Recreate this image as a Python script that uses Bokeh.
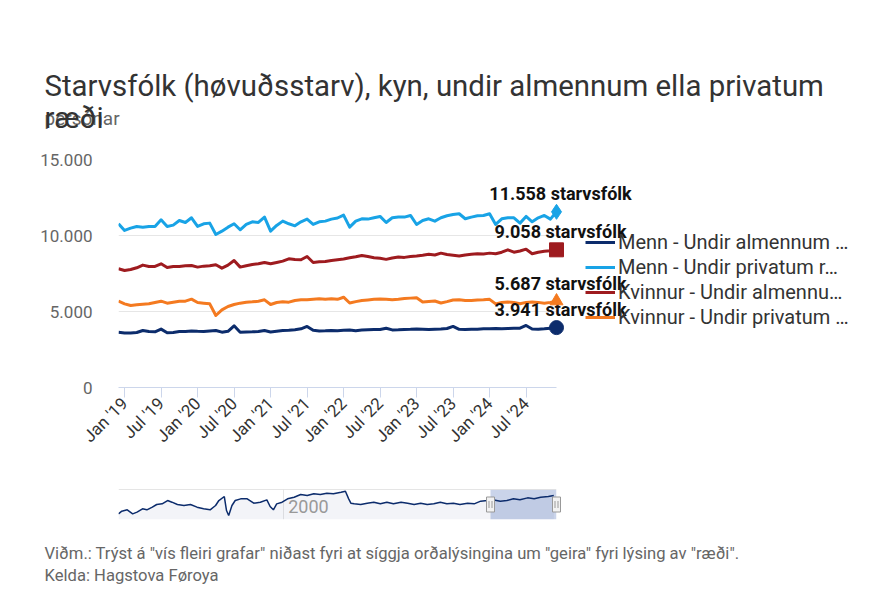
import math
import pandas as pd
from bokeh.plotting import figure
from bokeh.models import (Range1d, FixedTicker, ColumnDataSource, Legend,
                          LegendItem, Span, BoxAnnotation)
from bokeh.layouts import column
from bokeh.embed import file_html
from bokeh.resources import INLINE
from bokeh.core.properties import value

# ---------------- data ----------------
title_line1 = "Starvsfólk (høvuðsstarv), kyn, undir almennum ella privatum"
title_line2 = "ræði"
subtitle = "persónar"
footer1 = 'Viðm.: Trýst á "vís fleiri grafar" niðast fyri at síggja orðalýsingina um "geira" fyri lýsing av "ræði".'
footer2 = "Kelda: Hagstova Føroya"
unit_word = "starvsfólk"

months = list(pd.date_range("2018-12-01", periods=73, freq="MS"))

legend_labels = ["Menn - Undir almennum …", "Menn - Undir privatum r…",
                 "Kvinnur - Undir almennu…", "Kvinnur - Undir privatum …"]

menn_almennum = [3640, 3580, 3590, 3620, 3750, 3680, 3660, 3840, 3600, 3620, 3680, 3680,
                 3720, 3700, 3690, 3720, 3750, 3640, 3700, 4060, 3640, 3650, 3660, 3680,
                 3750, 3650, 3700, 3750, 3760, 3800, 3860, 4020, 3760, 3720, 3730, 3750,
                 3740,
                 3760, 3780, 3740, 3780, 3800, 3820, 3820, 3900, 3790, 3800, 3820, 3830,
                 3850, 3830, 3810, 3830, 3850, 3880, 4020, 3830, 3820, 3830, 3840, 3860,
                 3870, 3880, 3860, 3880, 3890, 3900, 4080, 3850, 3840, 3860, 3900, 3941]
menn_privatum = [10771, 10331, 10483, 10594, 10550, 10594, 10594, 11034, 10594, 10682, 10990, 10858,
                 11166, 10594, 10770, 10814, 10067, 10287, 10550, 10770, 10375, 10726, 10902, 10858,
                 11210, 10287, 10660, 10946, 10770, 10638, 10902, 11078, 10726, 10902, 10946, 11078,
                 11150,
                 11342, 10550, 10946, 11100, 11078, 11166, 11254, 10858, 11166, 11210, 11210, 11320,
                 10726, 10990, 11100, 10946, 11166, 11298, 11386, 11430, 11100, 11210, 11298, 11320,
                 11430, 10726, 11100, 11166, 11166, 10814, 11254, 10902, 11166, 11320, 11078, 11558]
kvinnur_almennum = [7810, 7700, 7760, 7875, 8051, 7963, 7963, 8138, 7900, 7963, 7963, 8007,
                    8029, 7920, 7985, 8007, 8073, 7854, 8051, 8357, 7920, 8007, 8095, 8138,
                    8226, 8138, 8226, 8313, 8467, 8423, 8401, 8620, 8226, 8270, 8292, 8357,
                    8400,
                    8450, 8530, 8600, 8690, 8620, 8540, 8500, 8430, 8520, 8580, 8560, 8620,
                    8650, 8700, 8760, 8720, 8840, 8750, 8700, 8650, 8720, 8760, 8800, 8790,
                    8840, 8800, 8900, 9060, 8900, 8980, 9100, 8800, 8900, 8970, 9000, 9058]
kvinnur_privatum = [5680, 5505, 5395, 5440, 5480, 5505, 5590, 5680, 5549, 5615, 5680, 5680,
                    5812, 5590, 5549, 5505, 4738, 5110, 5330, 5461, 5549, 5615, 5637, 5680,
                    5768, 5461, 5590, 5637, 5615, 5724, 5768, 5768, 5812, 5834, 5812, 5834,
                    5800,
                    5940, 5560, 5650, 5720, 5760, 5800, 5830, 5800, 5770, 5800, 5850, 5880,
                    5900, 5620, 5660, 5690, 5560, 5650, 5760, 5770, 5730, 5720, 5750, 5770,
                    5800, 5500, 5590, 5620, 5600, 5510, 5600, 5620, 5600, 5550, 5600, 5687]

x_tick_labels = ["Jan '19", "Jul '19", "Jan '20", "Jul '20", "Jan '21", "Jul '21",
                 "Jan '22", "Jul '22", "Jan '23", "Jul '23", "Jan '24", "Jul '24"]
y_ticks = [0, 5000, 10000, 15000]
y_tick_labels = ["0", "5.000", "10.000", "15.000"]

# navigator (long history of the first series)
nav_years = [1984.9, 1985.2, 1985.7, 1986.2, 1986.6, 1987.1, 1987.5, 1988.0, 1988.4, 1988.9,
             1989.4, 1989.8, 1990.3, 1990.9, 1991.5, 1992.1, 1992.7, 1993.3, 1993.8, 1994.1,
             1994.6, 1994.8, 1995.0, 1995.3, 1995.6, 1996.1, 1996.7, 1997.3, 1997.9, 1998.5,
             1998.8, 1999.1, 1999.4, 1999.9, 2000.4, 2001.0, 2001.6, 2002.2, 2002.8, 2003.4,
             2004.0, 2004.6, 2005.3, 2005.7, 2006.0, 2006.2, 2006.5, 2007.1, 2007.7, 2008.3,
             2008.9, 2009.5, 2010.1, 2010.8, 2011.4, 2012.0, 2012.6, 2013.2, 2013.8, 2014.4,
             2015.0, 2015.6, 2016.2, 2016.9, 2017.5, 2018.1, 2018.7, 2019.2, 2019.9, 2020.5,
             2021.1, 2021.7, 2022.4, 2023.0, 2023.6, 2024.3, 2024.8]
nav_values = [2967, 3109, 3180, 2967, 3056, 3233, 3180, 3321, 3463, 3498,
              3675, 3587, 3463, 3410, 3463, 3321, 3233, 3180, 3410, 3675,
              3888, 3144, 2879, 3410, 3675, 3764, 3764, 3534, 3587, 3711,
              3357, 3180, 3498, 3587, 3764, 3852, 3994, 3941, 4030, 3994,
              4065, 4030, 4118, 4171, 3764, 3534, 3498, 3463, 3534, 3587,
              3498, 3587, 3498, 3587, 3534, 3463, 3534, 3463, 3498, 3587,
              3498, 3534, 3463, 3534, 3498, 3640, 3675, 3711, 3640, 3675,
              3764, 3711, 3817, 3764, 3852, 3888, 3941]
nav_ticks = [2000]
nav_selection = [2019.0, 2025.05]

for s in (menn_almennum, menn_privatum, kvinnur_almennum, kvinnur_privatum):
    assert len(s) == len(months), len(s)
assert len(nav_years) == len(nav_values), (len(nav_years), len(nav_values))

# ---------------- styling ----------------
FONT = "Roboto"
colors = ["#0c2c6c", "#18a3e6", "#9e1b1f", "#f47a20"]
markers = ["circle", "diamond", "square", "triangle"]
marker_sizes = [14, 15, 14, 13]
series = [menn_almennum, menn_privatum, kvinnur_almennum, kvinnur_privatum]

LEFT, RIGHT = 118, 318
FRAME_W = 438
x_idx = list(range(len(months)))
x0, x1 = 0, len(months) - 1

p = figure(frame_width=FRAME_W, frame_height=228, x_range=Range1d(x0, x1),
           y_range=Range1d(y_ticks[0], y_ticks[-1]),
           output_backend="svg", toolbar_location=None,
           min_border_left=LEFT, min_border_right=RIGHT,
           min_border_top=159, min_border_bottom=91)
p.outline_line_color = None
p.background_fill_color = "white"

# axes
p.yaxis.ticker = FixedTicker(ticks=y_ticks)
p.yaxis.major_label_overrides = {t: l for t, l in zip(y_ticks, y_tick_labels)}
p.yaxis.axis_line_color = None
p.yaxis.major_tick_line_color = None
p.yaxis.minor_tick_line_color = None
p.yaxis.major_tick_out = 0
p.yaxis.major_tick_in = 0
p.yaxis.major_label_standoff = 26
p.yaxis.major_label_text_font = FONT
p.yaxis.major_label_text_font_size = "17px"
p.yaxis.major_label_text_color = "#666666"
p.ygrid.ticker = FixedTicker(ticks=y_ticks)
p.ygrid.grid_line_color = "#e6e6e6"
p.xgrid.grid_line_color = None

x_tick_pos = [i for i, m in enumerate(months) if m.strftime("%b '%y") in x_tick_labels]
p.xaxis.ticker = FixedTicker(ticks=x_tick_pos)
p.xaxis.major_label_overrides = {i: months[i].strftime("%b '%y") for i in x_tick_pos}
p.xaxis.major_label_orientation = math.pi / 4
p.xaxis.axis_line_color = "#ccd6eb"
p.xaxis.major_tick_line_color = "#ccd6eb"
p.xaxis.minor_tick_line_color = None
p.xaxis.major_tick_out = 10
p.xaxis.major_tick_in = 0
p.xaxis.major_label_standoff = 3
p.xaxis.major_label_text_font = FONT
p.xaxis.major_label_text_font_size = "17px"
p.xaxis.major_label_text_color = "#333333"


def add_text(fig, x, y, text, dx, dy, size, color, style="normal", align="left"):
    """text glyph anchored at a data point, shifted by pixel offsets (dy > 0 is down)."""
    fig.text(x=[x], y=[y], text=[text], x_offset=dx, y_offset=dy,
             text_font=value(FONT), text_font_size=value(size),
             text_font_style=value(style), text_color=color,
             text_align=value(align), text_baseline=value("middle"), level="overlay")


# series
items = []
for vals, col, mk, ms, lab in zip(series, colors, markers, marker_sizes, legend_labels):
    src = ColumnDataSource(dict(x=x_idx, y=vals))
    r = p.line("x", "y", source=src, line_width=3, line_color=col, line_join="round")
    items.append(LegendItem(label=lab, renderers=[r]))
    p.scatter(x=[x_idx[-1]], y=[vals[-1]], marker=mk, size=ms, fill_color=col,
              line_color=col, level="overlay")
    txt = f"{vals[-1]:,}".replace(",", ".") + " " + unit_word
    add_text(p, x_idx[-1], vals[-1], txt, 4, -18, "18px", "#111111", "bold", "center")

legend = Legend(items=items, location=(29, 58), orientation="vertical",
                glyph_width=30, glyph_height=20, label_height=20, spacing=1,
                padding=0, margin=0, label_standoff=3,
                border_line_color=None, background_fill_alpha=0,
                label_text_font=FONT, label_text_font_size="20px",
                label_text_color="#333333")
p.add_layout(legend, "right")

# title / subtitle anchored at the frame's top-left corner
add_text(p, x0, y_ticks[-1], subtitle, -74, -41, "19px", "#666666")
add_text(p, x0, y_ticks[-1], title_line1, -74, -74, "29.4px", "#333333")
add_text(p, x0, y_ticks[-1], title_line2, -74, -42, "29.4px", "#333333")

# ---------------- navigator ----------------
nav_y0, nav_y1 = 2666, 4261
nav_x0, nav_x1 = nav_years[0], nav_selection[1]
nav = figure(frame_width=FRAME_W, frame_height=30, x_range=Range1d(nav_x0, nav_x1),
             y_range=Range1d(nav_y0, nav_y1),
             output_backend="svg", toolbar_location=None,
             min_border_left=LEFT, min_border_right=RIGHT,
             min_border_top=11, min_border_bottom=66)
nav.outline_line_color = None
nav.xaxis.visible = False
nav.yaxis.visible = False
nav.ygrid.grid_line_color = None
nav.xgrid.ticker = FixedTicker(ticks=nav_ticks)
nav.xgrid.grid_line_color = "#e6e6e6"

nav.add_layout(BoxAnnotation(left=nav_selection[0], right=nav_selection[1],
                             fill_color="#6685c2", fill_alpha=0.35, line_color=None,
                             level="underlay"))
nav.varea(x=nav_years, y1=[nav_y0] * len(nav_years), y2=nav_values,
          fill_color=colors[0], fill_alpha=0.05)
nav.line(nav_years, nav_values, line_color=colors[0], line_width=1.5)
nav.add_layout(Span(location=nav_y1, dimension="width", line_color="#cccccc",
                    line_width=1, level="overlay"))

ymid = (nav_y0 + nav_y1) / 2
for t in nav_ticks:
    add_text(nav, t, ymid, str(t), 5, 2, "18px", "#999999")

px = (nav_x1 - nav_x0) / FRAME_W
nav.rect(x=nav_selection, y=[ymid, ymid], width=8, height=15, width_units="screen",
         height_units="screen", fill_color="#f2f2f2", line_color="#999999", level="overlay")
grip_x = [s + d * px for s in nav_selection for d in (-1.5, 1.5)]
nav.rect(x=grip_x, y=[ymid] * 4, width=1, height=7, width_units="screen",
         height_units="screen", fill_color="#999999", line_color=None, level="overlay")

add_text(nav, nav_x0, nav_y0, footer1, -74, 34, "16.6px", "#666666")
add_text(nav, nav_x0, nav_y0, footer2, -74, 56, "16.6px", "#666666")

layout = column(p, nav, spacing=0)
open("out.html", "w").write(file_html(layout, INLINE))
